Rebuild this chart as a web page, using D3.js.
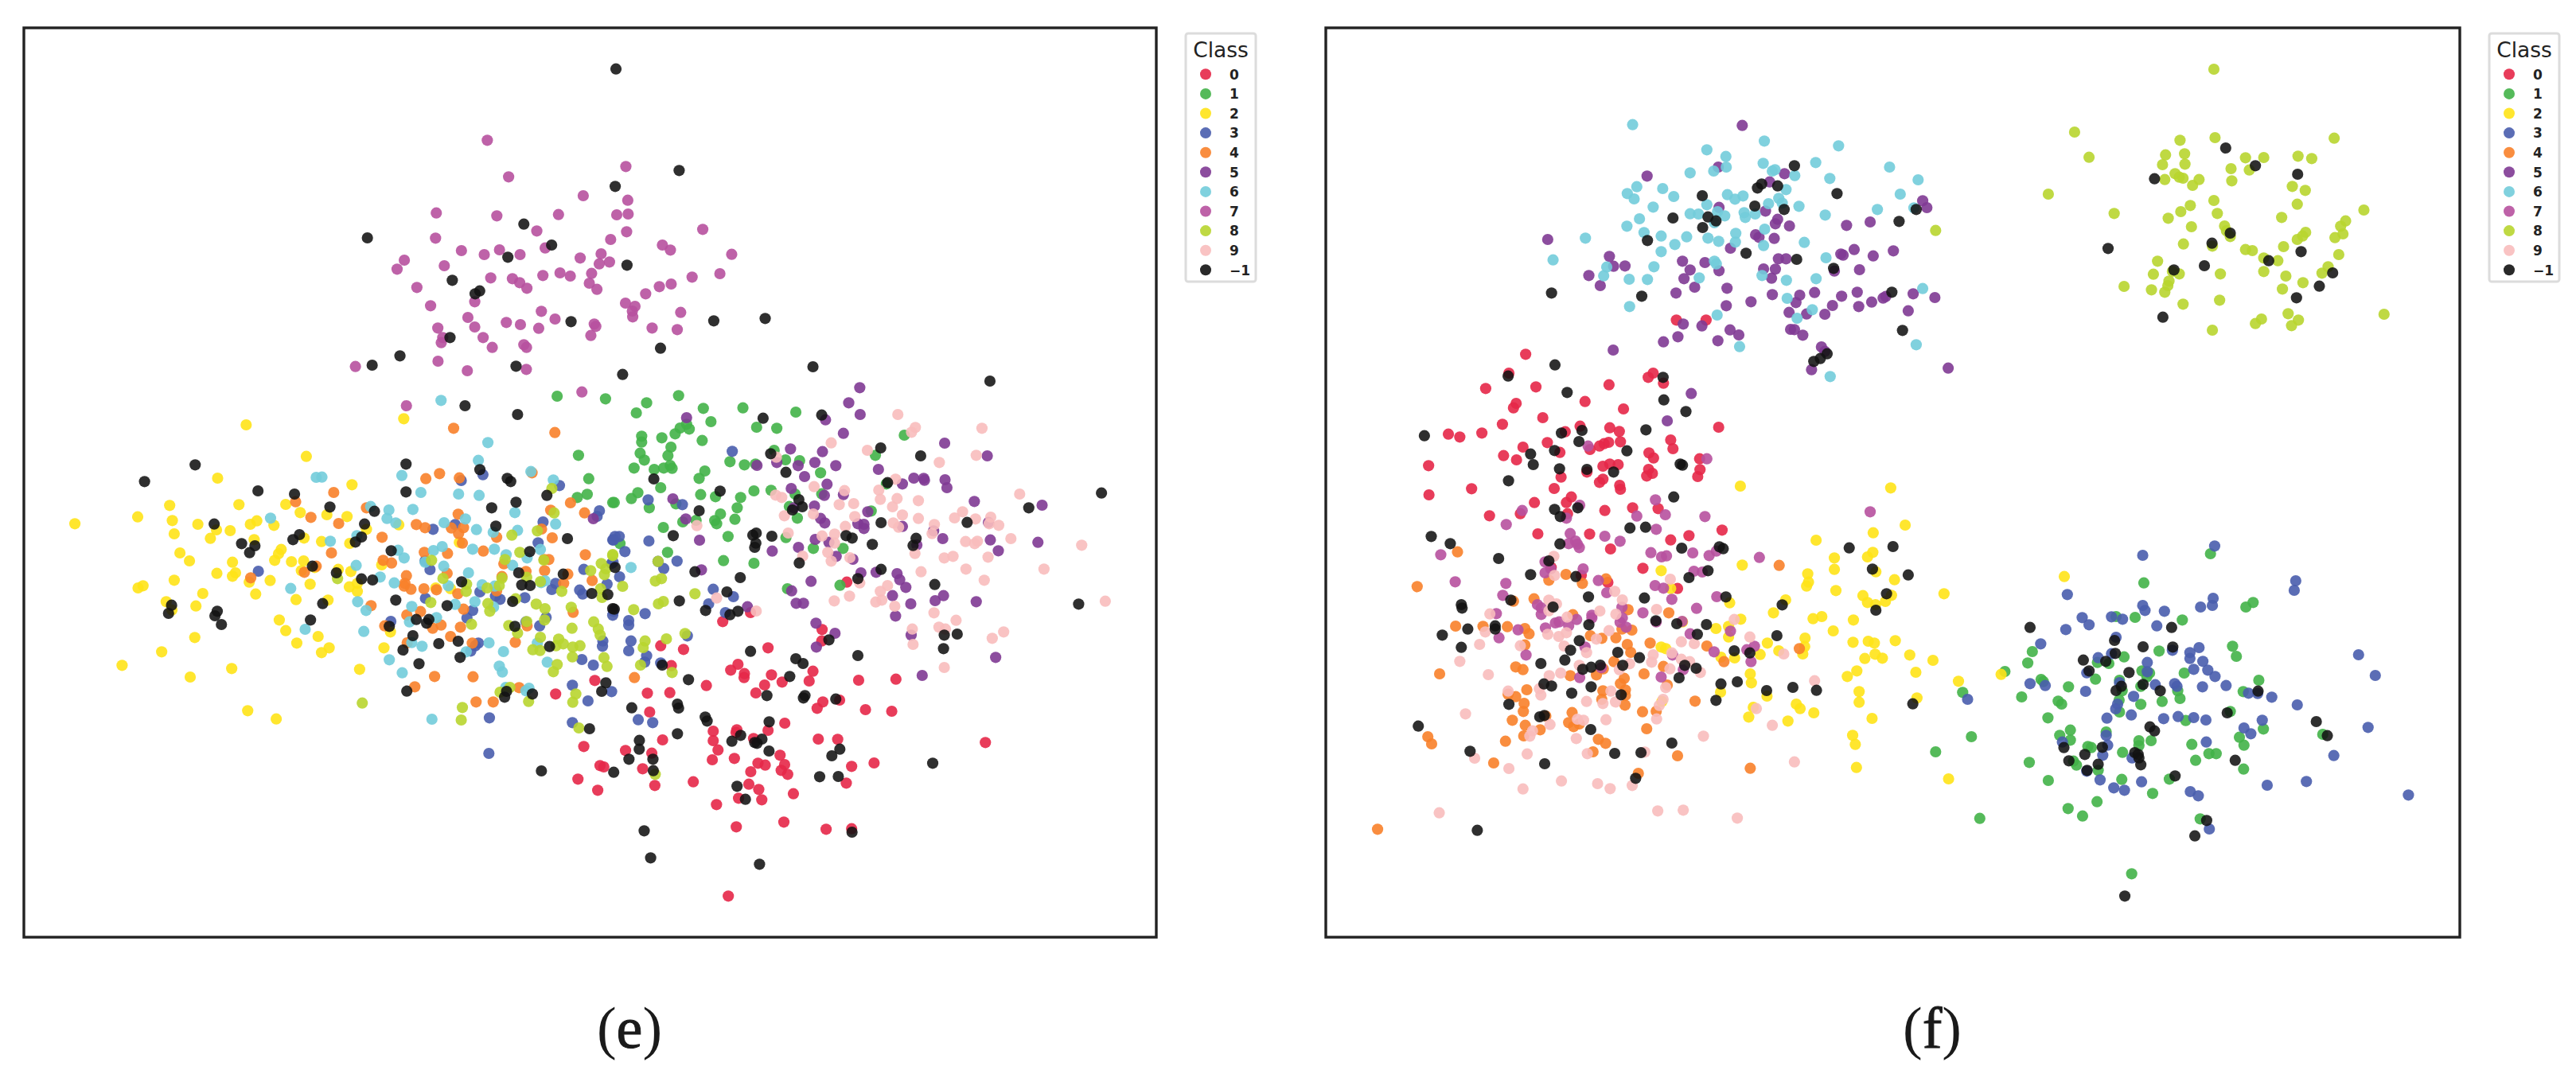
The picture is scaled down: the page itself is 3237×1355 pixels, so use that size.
<!DOCTYPE html>
<html><head><meta charset="utf-8">
<script src="https://cdn.jsdelivr.net/npm/d3@7/dist/d3.min.js"></script>
<style>html,body{margin:0;padding:0;background:#fff}svg{display:block}</style>
</head><body><svg id="c" width="3237" height="1355"></svg>
<script>
// class labels, in draw order
const classes = ["0","1","2","3","4","5","6","7","8","9","\u22121"];
const classColors = ["#E62748","#42B248","#FFE317","#495DAD","#F8812A","#7F3A94","#72CCDA","#B7519E","#B8D52F","#F8BCBC","#121212"];

// Panel (e): embedding values, flat x,y lists, grouped by read-off sheet
const eA_2=[155,655,320,629,404,586,411,643,416,693,478,657,527,678,563,681,511,710,431,765,456,795,530,483,605,282,586,583,763,401,709,582,747,613,817,621,883,508,870,628,616,657,633,644,678,661,626,715,757,709,803,722,877,729,921,676,1019,259,1006,659,697,752,690,768,680,793,724,798,756,795,569,800,528,842,577,840,569,853,416,868,334,889,321,897,491,918,395,949,473,965,410,980,613,875,630,920,668,869,750,832,785,820,847,827,880,835,773,883,876,893,897,880,897,910,736,941,820,943,692,1018,709,1058,794,1080,738,1105,823,1123,803,1141,470,1084,383,1138,279,1189,567,1201,458,1233,903,1204,967,1123,984,1063,609,1360,684,1391,961,810,1103,897,1142,900,1165,725];
const eA_4=[735,572,835,537,775,631,848,654,921,595,962,706,829,765,789,815,758,838,617,859,965,793,987,803,1077,485,1113,466,1165,482,1150,295,1416,311,1052,658,1075,670,1144,671,1176,670,1162,619,1163,692,1173,728,1263,706,1228,758,1073,763,1134,767,1405,604,1457,576,1494,614,1356,463,1381,675,1409,708,1496,772,1282,806,1388,790,1400,790,1389,832,1340,835,1277,854,1133,842,1026,851,1022,880,1020,890,1038,902,1072,900,1105,904,1161,919,1263,908,1439,880,1450,845,1514,869,933,964,1027,999,1063,986,1176,977,1464,989,1117,1037,1095,1049,1168,1045,969,1040,1142,1080,1199,1105,1312,1102,1028,1104,1343,1040,1100,1231,1201,1232,1048,1270,1209,1327,1254,1327,1322,1273];
const eA_6=[1117,190,1240,349,1215,416,1014,473,789,480,804,479,1353,458,1412,490,1064,537,1163,543,1217,548,1043,601,932,590,980,603,975,635,998,652,1311,613,1125,651,1181,637,1418,656,1210,677,1254,687,1318,680,669,634,896,700,826,721,1004,755,1020,784,1097,756,1120,741,1200,751,1257,751,1378,752,1288,772,1343,784,1075,800,1124,815,1305,812,894,812,1189,840,957,856,994,878,1136,889,1225,885,1258,890,1380,877,1390,870,722,899,898,949,920,982,1206,949,1040,967,1154,959,1255,969,1105,1009,1034,1025,914,1061,760,1053,1040,1103,1067,1117,1243,1104,1183,1138,1281,1137,1370,1105,981,1168,1396,1177,1270,1192,1015,1217,1278,1214,1287,1272,1340,1285,1348,1275,1093,1392];
const eA_3=[1170,492,1227,470,1428,511,1533,606,1527,627,1385,648,1096,676,1154,658,1372,727,1568,716,1088,828,1075,795,637,834,1492,827,1565,805,1418,880,1408,903,1553,883,1481,905,1489,920,1219,912,1260,928,1272,940,1337,934,1076,936,1200,982,1185,1010,985,1023,1393,1008,1340,1025,1376,1040,1215,1105,1207,1115,1195,1135,1542,1097,1541,1117,1487,1167,1517,1188,1462,1264,1503,1323,1565,1288,1244,1387,1462,1405,1568,1000];
const eA_8=[1408,522,1414,614,1370,682,1303,698,1324,763,1285,790,1092,793,1387,792,1122,861,1277,860,1342,857,1378,873,1184,883,1183,910,1238,897,1270,888,1434,910,845,862,1510,832,1538,805,1568,775,1550,825,1546,847,1536,900,1540,933,1313,938,1090,952,1240,956,1245,985,1367,958,1390,975,1459,970,1197,1034,1295,1039,1342,1024,1389,1018,1461,1049,1518,1025,1530,1052,1535,1075,1318,1067,1378,1083,1426,1090,1419,1115,1438,1108,1358,1130,1377,1133,1463,1120,1482,1115,1462,1157,1545,1160,1553,1193,1422,1186,1412,1213,1272,1290,1298,1272,1471,1297,1463,1328,1347,1325,910,1331,1173,1348,1170,1395,1479,1425];
const eA_n=[936,57,1009,22,1314,61,1180,210,1318,243,471,433,338,496,1025,430,1219,451,1291,484,1300,496,636,531,732,543,1025,535,1395,548,825,592,1314,574,1250,595,942,608,521,656,916,656,1261,664,745,696,908,705,728,715,892,724,593,730,628,738,614,764,986,757,1350,760,1449,711,779,815,1321,840,842,840,1438,845,908,863,937,867,1171,874,1329,886,1351,888,1513,918,1555,922,998,943,1133,964,1305,948,409,962,401,993,529,985,523,1002,806,956,540,1035,774,1018,1052,1016,1085,1016,1079,1030,981,1042,1311,1042,1043,1077,1162,1098,1111,1107,1402,1118,1017,1131,1167,1159,1059,1183,1027,1286,1289,1287,1284,1309,1357,1297,1550,1255,1539,1287,1507,1428,1568,975];
const eA_7=[892,62,1109,42,1186,78,1341,73,1026,210,1487,158];
const eA_0=[1521,1246,1418,1297,1492,1495];
const eA_1=[1422,174,1549,184,1478,397,1505,485,1475,556,1501,544,1568,575];
const eA_5=[1517,636];

const eB_1=[235,199,208,237,319,172,384,220,488,218,627,234,404,270,340,280,323,294,347,298,310,316,222,325,222,347,275,331,381,341,299,366,218,389,291,398,229,415,202,445,255,450,280,445,297,435,302,446,454,421,492,433,521,430,388,456,373,484,272,519,377,545,195,560,212,538,150,575,242,595,416,553,482,556,517,531,562,529,570,378,600,414,637,417,692,463,695,542,625,543,524,291,577,295,912,321,836,397,865,505,610,590,825,607,473,595,312,580,429,618,467,638,330,648,365,642,414,643,419,655,279,669,631,634,449,703,601,707,165,730,290,763,437,794,517,804,673,748,751,748,605,900,743,887];
const eB_5=[795,142,766,199,796,243,705,263,340,255,752,314,1018,351,613,373,697,383,1130,399,577,424,525,435,633,436,677,424,732,436,844,450,650,477,709,506,907,505,937,483,963,484,965,491,1019,489,1024,519,615,522,702,548,752,545,304,561,622,595,676,588,1096,571,1274,585,816,610,338,637,692,635,703,652,790,655,806,657,806,673,907,665,989,682,1133,650,374,717,1013,711,1138,716,1263,725,678,714,714,725,945,735,634,744,565,758,733,778,777,789,1159,757,379,829,798,840,838,838,893,843,900,866,916,895,667,872,616,908,881,926,628,955,647,955,929,957,993,945,1015,926,1101,949,500,968,889,1003,680,1030,730,1068,681,1120,930,1075,1152,1159,959,1227];
const eB_9=[895,243,941,292,931,310,1116,295,720,350,815,378,1101,397,1004,424,576,404,889,487,675,515,755,530,845,528,849,563,893,560,949,568,574,547,590,556,741,583,779,579,881,591,1215,543,1065,610,1044,633,597,625,673,618,907,622,949,635,782,628,367,662,1099,637,1139,630,1135,655,1160,661,883,652,897,668,757,665,991,658,985,692,607,690,696,701,729,694,729,728,1073,722,1104,721,1097,730,1192,711,1378,736,940,767,711,763,645,777,720,796,769,783,1017,784,1040,778,1132,781,956,836,1074,826,1279,826,795,878,1122,868,868,888,849,910,768,928,728,946,853,943,837,950,887,966,1440,947,419,935,523,984,990,991,1048,1019,1003,1045,1020,1052,933,1052,1173,1063,1143,1087,935,1110,1017,1197];
const eB_3=[460,382,239,565,329,583,178,760,152,703,163,703,148,716,241,720,315,796,265,797,280,824,410,902,463,930,398,957,442,990,164,855,231,994,188,1020,188,1037,148,985,342,1078,194,1097,188,1134,235,1153,230,1177,272,1180,213,1394,251,1405,147,800];
const eB_4=[203,1235];
const eB_8=[146,771,172,891,265,797,258,871,274,862,362,919,266,957,279,948,201,979,336,1069,287,1089,231,1097,226,1122,219,1188,302,1216];
const eB_6=[194,820];
const eB_0=[761,875,508,990,435,1024,696,1054,695,1097,272,1115,332,1129,554,1123,300,1190,475,1185,456,1207,492,1220,491,1235,563,1225,672,1211,662,1248,591,1252,545,1263,392,1265,522,1293,237,1294,296,1292,792,1245,890,1241,698,1327,742,1320,683,1351,810,1356,879,1362,243,1365,598,1407,410,1437,472,1432,470,1442,554,1434,410,1473,277,1470,516,1465,686,1467,737,1468,1125,1480];
const eB_n=[172,92,672,63,1137,117,541,257,695,245,850,369,955,399,561,391,601,461,254,486,868,500,428,532,635,564,644,591,618,603,373,606,1430,539,1239,595,1077,650,851,651,305,700,523,690,514,698,564,702,522,728,519,744,759,700,775,709,828,733,943,710,935,737,636,803,152,820,851,827,362,836,790,862,481,858,992,884,446,912,321,946,390,982,475,985,454,998,150,977,1370,958,1017,1075,1051,1071,714,1093,1015,1126,508,1136,790,1152,627,1164,646,1182,276,1188,611,1231,345,1243,551,1303,651,1303,647,1312,732,1316,316,1335,319,1350,196,1349,389,1384,394,1399,557,1402,316,1447,482,1453,216,1472,459,1475,538,1467,519,1480,525,1483];

const eC_7=[444,349,808,448,500,487,696,558,813,575,310,623,469,634,631,629,784,630,814,627,574,691,1010,685,308,718,810,694,768,723,904,744,925,763,376,765,436,780,476,762,530,780,596,755,743,777,1086,779,226,801,207,835,331,822,688,793,738,815,765,808,590,859,635,849,662,861,718,851,453,868,510,871,529,886,548,907,712,888,732,911,982,865,1055,852,259,904,896,901,927,891,860,928,411,958,295,973,807,963,832,975,825,993,826,1015,586,994,952,998,393,1017,622,1023,494,1036,531,1044,725,1042,729,1051,579,1058,411,1053,314,1057,877,1057,943,1063,716,1085,433,1093,327,1093,323,1112,457,1130,540,1120,547,1130];
const eC_n=[782,80,948,463,780,523,540,665,129,717,613,744,498,790,811,820,352,877,424,917,412,928,664,1033,1039,1030,1174,1021,346,1093,899,1133];

const eD_3=[30,21];
const eD_0=[389,10,458,20,632,8,675,40,617,45,795,28,737,58,756,65,807,63,718,90,798,85,815,100,322,67,332,72,434,79,264,118,316,160,466,142,567,128,713,137,739,157,686,190,747,196,830,173,628,214,983,70,1042,57,969,133,680,298,805,280,916,307,983,305,659,559];
const eD_n=[425,5,398,43,461,43,168,87,358,92,462,86,766,12,931,30,952,5,899,109,948,108,1196,58,682,145,704,194,438,313,984,318,455,415,741,439];
const eD_8=[467,100];

// Panel (f)
const fA_6=[735,230,1081,292,1276,310,930,325,980,350,1216,373,1078,376,1410,390,981,390,948,405,886,412,1102,405,1109,400,1161,422,1253,433,1485,438,746,464,814,471,721,490,739,510,843,501,1138,475,984,494,1025,499,1004,511,1119,508,1128,526,1092,528,1438,492,930,532,789,541,1172,538,1474,544,1378,550,886,566,908,567,958,558,977,574,1028,562,1031,580,1057,567,1241,571,753,585,720,613,950,600,765,637,810,650,1006,640,1082,624,877,653,933,658,961,670,1005,673,611,658,846,682,1186,674,1079,686,810,709,526,740,950,745,955,755,1243,732,667,767,791,766,659,800,726,813,774,814,910,808,1075,799,1139,817,1217,811,1497,848,1141,885,727,916,1207,928,957,948,1167,960,1016,1067,1480,1060,1254,1180];
const fA_5=[1023,233,773,424,960,390,1134,415,1095,446,962,542,1084,556,1116,587,1110,604,1147,612,1497,517,1508,543,1297,610,1359,597,512,663,1058,645,1067,655,1107,659,992,696,1282,718,1288,722,1317,701,1367,725,1420,706,674,727,685,764,715,763,866,745,925,750,1118,736,1138,736,620,799,886,778,962,781,1079,774,1110,775,1331,777,1265,782,870,811,1100,809,650,837,898,843,983,847,849,865,1102,871,1174,873,1213,863,1325,862,1284,877,1472,868,1529,882,1400,878,1393,884,1363,899,1164,901,1046,898,981,913,1260,912,1329,916,1146,938,1192,944,1240,945,1459,932,868,982,917,989,991,1004,1014,1023,1150,1002,1160,1003,1182,1024,854,1030,816,1049,959,1045,684,1080,1231,1068,1240,1085,1205,1154,1564,1148,889,1244,826,1347];
const fA_n=[1160,385,1074,454,1063,469,1116,461,1272,490,918,498,1056,537,1133,550,1480,550,841,582,933,578,954,593,1435,595,919,618,774,667,1033,715,1166,738,1263,772,522,865,759,877,1416,862,1444,1006,1246,1094,1228,1112,1211,1123,531,1136,408,1178,815,1183,563,1240,817,1268,875,1312,188,1403,548,1393,602,1383,770,1381,594,1425,530,1459,467,1472,720,1460];
const fA_0=[454,1096,410,1167,789,1167,776,1183,816,1205,349,1225,481,1219,673,1211,610,1274,429,1281,422,1298,711,1302,499,1335,393,1360,961,1371,251,1397,281,1408,339,1393,558,1388,597,1367,675,1373,700,1387,511,1429,703,1426,672,1428,660,1433,648,1442,835,1419,841,1452,447,1446,544,1466,623,1455,396,1478,430,1494,778,1468,790,1487,911,1490,850,967,928,967];
const fA_7=[618,1442,930,1490];
const fA_8=[1531,629];

const fB_0=[199,16,657,18,675,10,697,12,777,30,912,31,772,55,787,45,906,57,547,59,615,40,657,67,648,79,701,90,703,105,529,102,312,103,200,126,477,155,574,134,561,155,564,197,440,197,662,185,735,175,802,178,359,205,970,259,622,274,486,273,883,280,835,296,677,330,762,403,521,400,600,430,670,456,853,479];
const fB_7=[596,165,445,185,561,214,746,206,821,201,795,145,925,208,403,238,797,256,571,272,662,282,702,301,585,300,567,310,595,325,590,312,783,344,893,345,811,360,824,356,936,355,955,338,231,352,1068,362,1359,190,505,379,520,405,505,420,605,405,645,449,269,454,402,460,667,495,794,468,816,478,896,414,918,417,394,505,838,520,956,510,485,540,495,552,495,577,707,550,903,554,377,574,762,571,628,580,628,590,588,596,708,590,702,606,718,625,532,609,542,605,567,620,506,628,434,635,384,665,797,605,865,603,992,640,886,650,610,700,455,730,653,778,596,815,810,813,840,730,1055,697,1035,710,1046,755,949,718,868,785];
const fB_9=[528,358,530,430,834,444,688,490,708,522,515,523,535,537,515,563,649,564,798,558,360,575,691,576,563,587,1002,596,673,638,348,643,512,652,541,660,561,646,863,680,897,687,1043,662,333,690,440,695,555,696,640,670,614,721,838,722,789,729,785,757,281,754,1132,726,863,746,885,755,727,763,595,769,700,785,833,782,913,796,546,798,516,808,356,804,1213,827,822,853,408,866,490,857,494,881,678,866,815,897,805,920,614,905,690,907,657,913,1060,932,296,952,590,972,606,976,665,974,798,971,1102,995,518,992,472,1016,465,1036,921,1036,587,1045,767,1096,616,1102,458,1103,320,1119,1160,1133,410,1158,734,1222,548,1205,643,1215,676,1234,447,1235,227,1325,801,1318,868,1315,1010,1345];
const fB_4=[275,341,169,472,1120,392,560,426,515,448,603,460,665,443,422,527,476,518,723,559,830,571,578,578,270,621,342,622,406,623,452,630,463,650,624,657,654,667,691,665,733,636,707,632,452,692,721,690,730,720,781,685,930,696,975,755,1173,706,686,755,816,773,765,801,428,775,447,785,228,801,571,808,640,805,658,782,713,818,703,838,826,843,457,861,408,878,428,887,657,865,716,862,716,882,450,912,448,943,654,897,715,919,899,904,761,944,797,942,576,947,419,976,507,960,453,995,567,985,580,1000,595,990,492,1012,772,1008,449,1035,197,1038,207,1065,401,1055,645,1048,664,1063,631,1095,853,1110,370,1137,1044,1157,750,1176,65,1387];
const fB_2=[1018,93,1413,100,1451,240,1367,269,1217,297,1366,343,1352,360,1265,364,1265,407,1023,391,810,412,1195,424,1197,455,1192,470,1374,416,1423,446,1269,487,1553,499,1340,506,1415,505,1352,532,1399,528,1373,540,1137,522,990,533,835,479,1105,571,1232,585,1209,593,1315,598,1019,595,866,605,987,622,954,630,1262,639,987,662,1188,666,1089,685,1314,682,1354,678,1370,685,1425,676,1187,698,1119,714,1182,726,1070,728,1003,741,810,700,822,706,1463,730,1372,727,1345,743,1391,742,1524,750,967,738,1479,795,1324,790,1299,811,1044,801,1047,835,1330,868,966,870,1088,885,1330,908,1482,892,1165,915,1175,932,1052,927,1211,948,1040,964,1143,979,1364,969,1313,1033,1320,1067,1323,1154,1565,1197,812,905];
const fB_n=[474,12,543,28,615,30,685,40,860,10,866,14,409,73,843,134,530,181,591,175,545,208,728,251,769,248,206,283,256,310,544,311,864,327,1304,326,1419,321,963,322,973,329,383,366,515,375,467,427,586,434,933,412,883,438,1365,406,1459,428,619,511,766,515,980,511,1402,499,1128,541,415,523,285,540,287,553,526,549,1374,561,374,620,374,632,620,616,796,601,851,612,929,615,302,632,235,655,905,652,1114,657,595,676,285,701,572,712,696,720,1002,714,1043,722,753,740,557,749,494,762,604,784,626,776,650,768,709,769,872,769,902,780,857,816,502,839,522,847,626,850,967,839,1010,831,1087,864,1156,852,1218,863,575,874,705,880,954,901,1471,914,410,916,491,963,503,958,172,998,625,1011,838,1062,308,1093,688,1101,757,1098,504,1140,743,1195,327,1391];
const fB_1=[1531,1095];

const fC_8=[694,81,328,318,366,413,605,349,697,339,1010,341,567,404,617,400,559,441,618,439,777,415,825,414,915,409,951,418,739,456,787,461,592,475,603,488,613,492,565,497,655,497,638,519,741,502,900,523,934,538,259,552,694,576,632,595,607,618,913,590,1088,612,432,625,703,625,574,643,872,640,1040,653,1027,673,635,675,722,672,727,690,737,712,935,696,927,710,913,723,1033,702,1012,716,614,740,690,748,877,750,777,761,795,765,1022,780,825,793,862,803,546,805,994,826,978,850,585,843,603,853,711,853,825,844,535,854,883,861,576,880,573,897,928,886,458,900,530,913,565,922,874,910,613,967,709,952,889,1003,916,1027,898,1048,819,1023,803,1040,690,1065,1141,1005];
const fC_n=[725,378,803,445,914,477,538,494,737,699,689,737,416,757,923,769,838,803,669,822,589,838,1006,849,971,899,911,943,560,1016];

const fD_3=[696,139,507,174,909,270,905,306,309,322,692,336,690,363,659,369,507,363,513,382,564,385,348,409,425,406,454,415,366,436,544,440,305,454,437,483,239,508,655,522,1074,549,631,541,631,563,425,545,390,560,519,578,665,574,641,604,678,607,360,617,519,613,697,631,1118,627,211,658,251,665,446,654,540,662,591,658,597,668,664,670,726,665,357,687,785,694,47,717,846,709,483,706,913,738,441,735,436,753,477,776,413,788,562,790,600,782,641,786,673,795,821,796,1099,823,773,825,791,847,411,853,296,878,415,890,674,878,402,928,479,938,1009,929,360,988,395,1021,504,1028,937,1027,834,1041,431,1051,459,1060,632,1065,653,1081,1205,1078,682,1206,585,532,809,695];
const fD_1=[685,168,510,278,797,352,778,369,611,418,487,408,437,405,743,517,753,555,217,537,550,535,458,557,205,580,388,578,418,582,145,612,505,610,525,618,616,618,383,641,240,642,246,650,812,645,312,670,518,632,446,645,502,668,34,691,189,708,453,685,599,685,605,714,771,688,558,725,445,720,285,724,294,735,502,736,446,765,258,787,737,763,620,797,824,829,317,833,411,840,57,858,289,853,317,871,761,860,980,849,497,873,497,892,529,873,636,887,773,890,363,895,372,899,454,917,681,922,700,922,646,947,209,955,325,950,333,965,772,980,390,985,259,1023,452,1019,577,1018,533,1072,387,1103,311,1129,349,1157,79,1166,658,1168,478,1375];
const fD_n=[211,446,583,446,433,495,508,519,586,520,435,544,351,569,410,574,366,610,471,616,451,668,437,684,508,661,553,685,810,686,729,768,963,801,992,854,526,821,538,836,401,898,300,899,355,925,486,918,495,925,497,938,313,949,502,964,390,962,361,985,750,947,592,1006,675,1174,644,1232,460,1459];
const fD_2=[301,254,135,623,23,649];

// read-off sheets: sheet origin within its panel's units, and its lists per class index
const sheetsE = [
 {dx:0,dy:0,lists:{0:eA_0,1:eA_1,2:eA_2,3:eA_3,4:eA_4,5:eA_5,6:eA_6,7:eA_7,8:eA_8,10:eA_n}},
 {dx:1422,dy:0,lists:{0:eB_0,1:eB_1,3:eB_3,4:eB_4,5:eB_5,6:eB_6,8:eB_8,9:eB_9,10:eB_n}},
 {dx:794.5,dy:-1140,lists:{7:eC_7,10:eC_n}},
 {dx:1212.6,dy:1500,lists:{0:eD_0,3:eD_3,8:eD_8,10:eD_n}}
];
const sheetsF = [
 {dx:0,dy:0,lists:{0:fA_0,5:fA_5,6:fA_6,7:fA_7,8:fA_8,10:fA_n}},
 {dx:0,dy:1500,lists:{0:fB_0,1:fB_1,2:fB_2,4:fB_4,7:fB_7,9:fB_9,10:fB_n}},
 {dx:1568,dy:-60,lists:{8:fC_8,10:fC_n}},
 {dx:1568,dy:1680,lists:{1:fD_1,2:fD_2,3:fD_3,10:fD_n}}
];

function collect(sheets){
  const out=[];
  classes.forEach((_,c)=>{
    sheets.forEach(s=>{
      const l=s.lists[c]; if(!l) return;
      for(let i=0;i<l.length;i+=2) out.push({c,x:l[i]+s.dx,y:l[i+1]+s.dy});
    });
  });
  return out;
}

const svg=d3.select("#c");
const color=d3.scaleOrdinal(d3.range(classes.length),classColors);

function panel(cfg){
  const x=d3.scaleLinear().domain(cfg.xd).range(cfg.xr);
  const y=d3.scaleLinear().domain(cfg.yd).range(cfg.yr);
  const g=svg.append("g");
  g.append("g").selectAll("circle").data(collect(cfg.sheets)).join("circle")
    .attr("cx",d=>x(d.x)).attr("cy",d=>y(d.y)).attr("r",7.1)
    .attr("fill",d=>color(d.c)).attr("fill-opacity",d=>d.c===10?0.88:0.9);
  g.append("rect").attr("x",cfg.xr[0]).attr("y",cfg.yr[0])
    .attr("width",cfg.xr[1]-cfg.xr[0]).attr("height",cfg.yr[1]-cfg.yr[0])
    .attr("fill","none").attr("stroke","#222").attr("stroke-width",3.4);
  // legend
  const lx=cfg.legendX;
  const leg=g.append("g").attr("transform",`translate(${lx},42)`);
  leg.append("rect").attr("x",0).attr("y",0).attr("width",88).attr("height",312).attr("rx",3)
    .attr("fill","#fff").attr("stroke","#dcdcdc").attr("stroke-width",3);
  leg.append("text").attr("x",44).attr("y",29.5).attr("text-anchor","middle")
    .attr("font-family","DejaVu Sans").attr("font-size",26.5).attr("fill","#222").text("Class");
  const ly=d3.scalePoint().domain(d3.range(classes.length)).range([51.3,297.3]);
  const row=leg.selectAll("g.r").data(d3.range(classes.length)).join("g").attr("class","r")
    .attr("transform",d=>`translate(0,${ly(d)})`);
  row.append("circle").attr("cx",25).attr("cy",0).attr("r",7).attr("fill",d=>color(d)).attr("fill-opacity",0.9);
  row.append("text").attr("x",55).attr("y",6.3).attr("font-family","DejaVu Sans").attr("font-weight","600")
    .attr("font-size",17).attr("fill","#222").text(d=>classes[d]);
  // caption
  const cap=g.append("text").attr("x",cfg.capX).attr("y",1317).attr("text-anchor","middle")
    .attr("font-family","Liberation Serif").attr("font-size",74).attr("fill","#1a1a1a");
  cap.append("tspan").text("(");
  cap.append("tspan").attr("stroke","#1a1a1a").attr("stroke-width",1).text(cfg.cap);
  cap.append("tspan").text(")");
}

panel({sheets:sheetsE,xd:[21,2996],yd:[-1215,2214],xr:[30,1453],yr:[35,1178],legendX:1490,cap:"e",capX:791});
panel({sheets:sheetsF,xd:[-71,2908],yd:[-135,3294],xr:[1666,3091],yr:[35,1178],legendX:3128,cap:"f",capX:2428});
</script></body></html>
